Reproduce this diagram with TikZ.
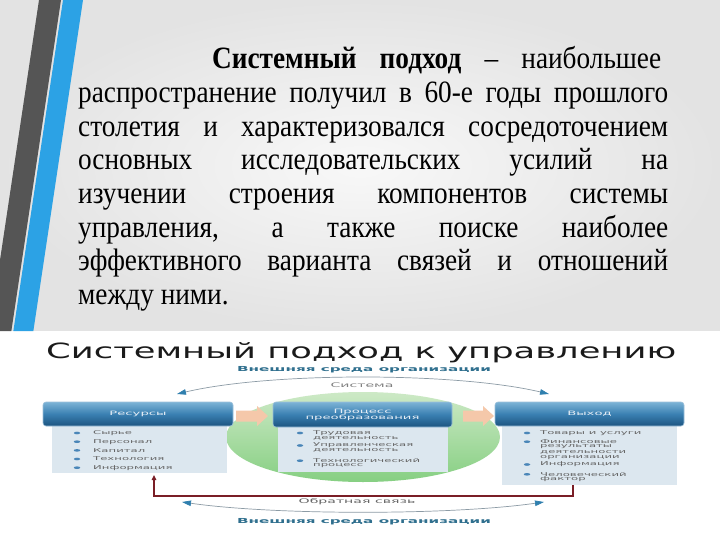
\documentclass[tikz,border=0pt]{standalone}
\usepackage{fontspec}
\usepackage{graphicx}
\setmainfont{Liberation Serif}[FakeStretch=0.88]
\newfontfamily\dfont{DejaVu Sans}[FakeStretch=2.2]
\newfontfamily\tfont{DejaVu Sans}
\usetikzlibrary{arrows.meta,shapes.geometric}
\definecolor{bgedge}{HTML}{E3E3E3}
\definecolor{bgmid}{HTML}{F8F8F8}
\definecolor{stripegray}{HTML}{555555}
\definecolor{stripeblue}{HTML}{2CA2E5}
\definecolor{hdrtop}{HTML}{7DB3D6}
\definecolor{hdrmid}{HTML}{3A80B2}
\definecolor{hdrbot}{HTML}{1C5480}
\definecolor{hdrline}{HTML}{9CC0DA}
\definecolor{hdrtext}{HTML}{E6EEF6}
\definecolor{bodyfill}{HTML}{DCE7EF}
\definecolor{itemtxt}{HTML}{666666}
\definecolor{bulletc}{HTML}{4A86B8}
\definecolor{outerc}{HTML}{2F6F8E}
\definecolor{arcline}{HTML}{8C9BA5}
\definecolor{arrowtip}{HTML}{2F7FAE}
\definecolor{peach}{HTML}{F5C8AA}
\definecolor{fbred}{HTML}{7A1E26}
\definecolor{greentop}{HTML}{CDE9C6}
\definecolor{greenmid}{HTML}{78C977}
\definecolor{greenbot}{HTML}{86CF82}
\definecolor{titlec}{HTML}{1A1A1A}
\tikzset{
  para/.style={anchor=base west, inner sep=0pt, text=black, font=\fontsize{31}{33}\selectfont},
  hdr/.style={draw=hdrline, line width=0.6pt, rounded corners=3pt, top color=hdrtop, bottom color=hdrbot, middle color=hdrmid, inner sep=0pt, text=hdrtext, font=\dfont\fontsize{6}{6.5}\selectfont, align=center},
  bodybox/.style={fill=bodyfill, draw=none, inner sep=0pt},
  item/.style={anchor=west, inner sep=0pt, text=itemtxt, font=\dfont\fontsize{5.3}{5.3}\selectfont},
  bul/.style={ellipse, fill=bulletc, inner sep=0pt, minimum width=6.5pt, minimum height=2.6pt},
  envtxt/.style={inner sep=0pt, text=outerc, font=\dfont\bfseries\fontsize{6.9}{7}\selectfont},
  smalltxt/.style={inner sep=0pt, text=itemtxt, font=\dfont\fontsize{6.4}{7}\selectfont},
  peachfill/.style={fill=peach, draw=none},
  arcarrow/.style={draw=arcline, line width=0.7pt, {Triangle[length=9pt,width=5.5pt,color=arrowtip]}-{Triangle[length=9pt,width=5.5pt,color=arrowtip]}},
  fbline/.style={draw=fbred, line width=1.3pt, -{Triangle[length=5pt,width=4.5pt]}}
}
\begin{document}
\begin{tikzpicture}[x=1pt,y=-1pt]
\useasboundingbox (0,0) rectangle (720,540);
% background
\shade[inner color=bgmid, outer color=bgedge] (0,0) rectangle (720,331);
\fill[white] (0,331) rectangle (720,540);
% stripes
\fill[stripegray] (39,0) -- (61,0) -- (11.35,331) -- (0,331) -- (0,260) -- cycle;
\fill[stripeblue] (63,0) -- (83,0) -- (33.35,331) -- (13.35,331) -- cycle;
% paragraph
\node[para] (p1) at (212,69) {\makebox[449pt][s]{\textbf{Системный подход} – наибольшее}};
\node[para] (p2) at (78,102.6) {\makebox[590pt][s]{распространение получил в 60-е годы прошлого}};
\node[para] (p3) at (78,136.3) {\makebox[590pt][s]{столетия и характеризовался сосредоточением}};
\node[para] (p4) at (78,169.9) {\makebox[590pt][s]{основных исследовательских усилий на}};
\node[para] (p5) at (78,203.6) {\makebox[590pt][s]{изучении строения компонентов системы}};
\node[para] (p6) at (78,237.2) {\makebox[590pt][s]{управления, а также поиске наиболее}};
\node[para] (p7) at (78,270.9) {\makebox[590pt][s]{эффективного варианта связей и отношений}};
\node[para] (p8) at (78,304.5) {между ними.};
% title
\node[anchor=base west, inner sep=0pt, text=titlec] (title) at (46,358.5) {\resizebox{630pt}{\height}{\tfont\fontsize{21}{21}\selectfont Системный подход к управлению}};
% green system ellipse
\shade[top color=greentop, middle color=greenmid, bottom color=greenbot] (363,437) ellipse (137 and 45);
% bodies
\node[bodybox, minimum width=175pt, minimum height=47pt] (lbody) at (139.5,449.5) {};
\node[bodybox, minimum width=170pt, minimum height=46pt] (mbody) at (363,449) {};
\node[bodybox, minimum width=175pt, minimum height=59pt] (rbody) at (589.5,455.5) {};
% headers
\node[hdr, minimum width=190pt, minimum height=24pt] (lhdr) at (138,414) {Ресурсы};
\node[hdr, minimum width=179pt, minimum height=25pt] (mhdr) at (362.5,414.5) {Процесс\\[-0.5pt]преобразования};
\node[hdr, minimum width=189pt, minimum height=24pt] (rhdr) at (589.5,414) {Выход};
% orange block arrows
\fill[peachfill] (236,410.5) -- (257,410.5) -- (257,406) -- (268,416) -- (257,426) -- (257,421.5) -- (236,421.5) -- cycle;
\fill[peachfill] (463,410.5) -- (483,410.5) -- (483,406) -- (494,416) -- (483,426) -- (483,421.5) -- (463,421.5) -- cycle;
% labels
\node[envtxt] (envtop) at (364,369.5) {Внешняя среда организации};
\node[envtxt] (envbot) at (364,522) {Внешняя среда организации};
\node[smalltxt, text=gray] (sys) at (362,385.5) {Система};
\node[smalltxt] (fbtxt) at (357,501.5) {Обратная связь};
% arcs
\coordinate (tl) at (177,394);
\coordinate (tr) at (549,394);
\draw[arcarrow] (tl) .. controls (270,372) and (456,372) .. (tr);
\coordinate (bl) at (182,502);
\coordinate (br) at (544,502);
\draw[arcarrow] (bl) .. controls (275,515.3) and (451,515.3) .. (br);
% feedback
\coordinate (fbR) at (573,485);
\coordinate (fbL) at (154,496);
\coordinate (fbT) at (154,475);
\draw[fbline] (fbR) |- (fbL) -- (fbT);
% left items
\node[bul] (lb1) at (77,433) {};
\node[bul] (lb2) at (77,441.7) {};
\node[bul] (lb3) at (77,450.4) {};
\node[bul] (lb4) at (77,459) {};
\node[bul] (lb5) at (77,467.7) {};
\node[item] (li1) at (93,433) {Сырье};
\node[item] (li2) at (93,441.7) {Персонал};
\node[item] (li3) at (93,450.4) {Капитал};
\node[item] (li4) at (93,459) {Технология};
\node[item] (li5) at (93,467.7) {Информация};
% middle items
\node[bul] (mb1) at (300,433) {};
\node[bul] (mb2) at (300,445.5) {};
\node[bul] (mb3) at (300,460.7) {};
\node[item] (mi1) at (313,433) {Трудовая};
\node[item] (mi1b) at (313,438.3) {деятельность};
\node[item] (mi2) at (313,445.5) {Управленческая};
\node[item] (mi2b) at (313,450.8) {деятельность};
\node[item] (mi3) at (313,460.7) {Технологический};
\node[item] (mi3b) at (313,466) {процесс};
% right items
\node[bul] (rb1) at (527,433) {};
\node[bul] (rb2) at (527,441.7) {};
\node[bul] (rb3) at (527,464.5) {};
\node[bul] (rb4) at (527,474.3) {};
\node[item] (ri1) at (540,433) {Товары и услуги};
\node[item] (ri2) at (540,441.7) {Финансовые};
\node[item] (ri2b) at (540,447) {результаты};
\node[item] (ri2c) at (540,452.3) {деятельности};
\node[item] (ri2d) at (540,457.5) {организации};
\node[item] (ri3) at (540,464.5) {Информация};
\node[item] (ri4) at (540,474.3) {Человеческий};
\node[item] (ri4b) at (540,479.5) {фактор};
\end{tikzpicture}
\end{document}
